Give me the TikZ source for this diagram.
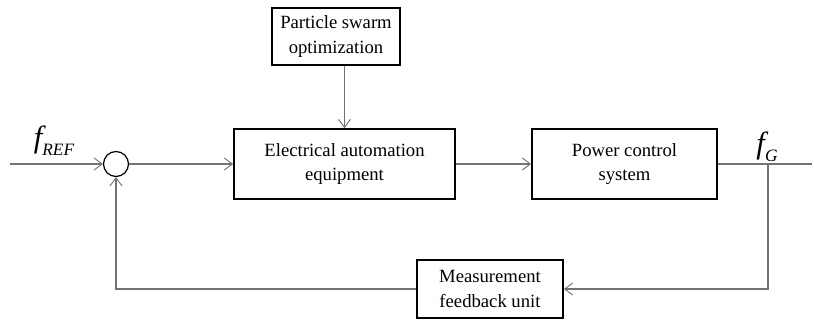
\documentclass[tikz,border=0pt]{standalone}
\usepackage{fontspec}
\setmainfont{Liberation Serif}
\usetikzlibrary{arrows.meta}
\begin{document}
\begin{tikzpicture}[x=0.75pt,y=-0.75pt,
  blk/.style={draw=black,line width=1.3pt,rectangle,align=center,inner sep=0pt,
    font=\fontsize{14}{18.5}\selectfont},
  con/.style={draw=black!55,line width=0.8pt},
  arr/.style={con,-{Straight Barb[length=6pt,width=9pt,line width=0.7pt]}},
  lbl/.style={inner sep=0pt,font=\fontsize{23}{25}\selectfont\itshape}]
\useasboundingbox (0,0) rectangle (814,320);
\node[blk,minimum width=128*0.75pt,minimum height=57*0.75pt] (pso) at (336,36.5) {Particle swarm\\optimization};
\node[blk,minimum width=221*0.75pt,minimum height=70*0.75pt] (eae) at (344.5,164) {Electrical automation\\equipment};
\node[blk,minimum width=185*0.75pt,minimum height=70*0.75pt] (pcs) at (624.5,164) {Power control\\system};
\node[blk,minimum width=146*0.75pt,minimum height=58*0.75pt] (mfu) at (490,289) {Measurement\\feedback unit};
\node[draw=black,line width=0.9pt,circle,minimum size=25*0.75pt,inner sep=0pt] (sum) at (116,164) {};
\coordinate (in) at (10,164);
\coordinate (out) at (812,164);
\coordinate (br) at (768,164);
\node[lbl] (fref) at (54,141) {f\raisebox{-6pt}{\fontsize{13}{13}\selectfont REF}};
\node[lbl] (fg) at (767,147) {f\raisebox{-6pt}{\fontsize{13}{13}\selectfont G}};
\draw[arr] (in) -- (sum);
\draw[arr] (sum) -- (eae);
\draw[arr] (pso.south -| eae.north) -- (eae.north);
\draw[arr] (eae) -- (pcs);
\draw[con] (pcs) -- (out);
\draw[arr] (br) |- (mfu.east);
\draw[arr] (mfu.west) -| (sum.south);
\end{tikzpicture}
\end{document}
